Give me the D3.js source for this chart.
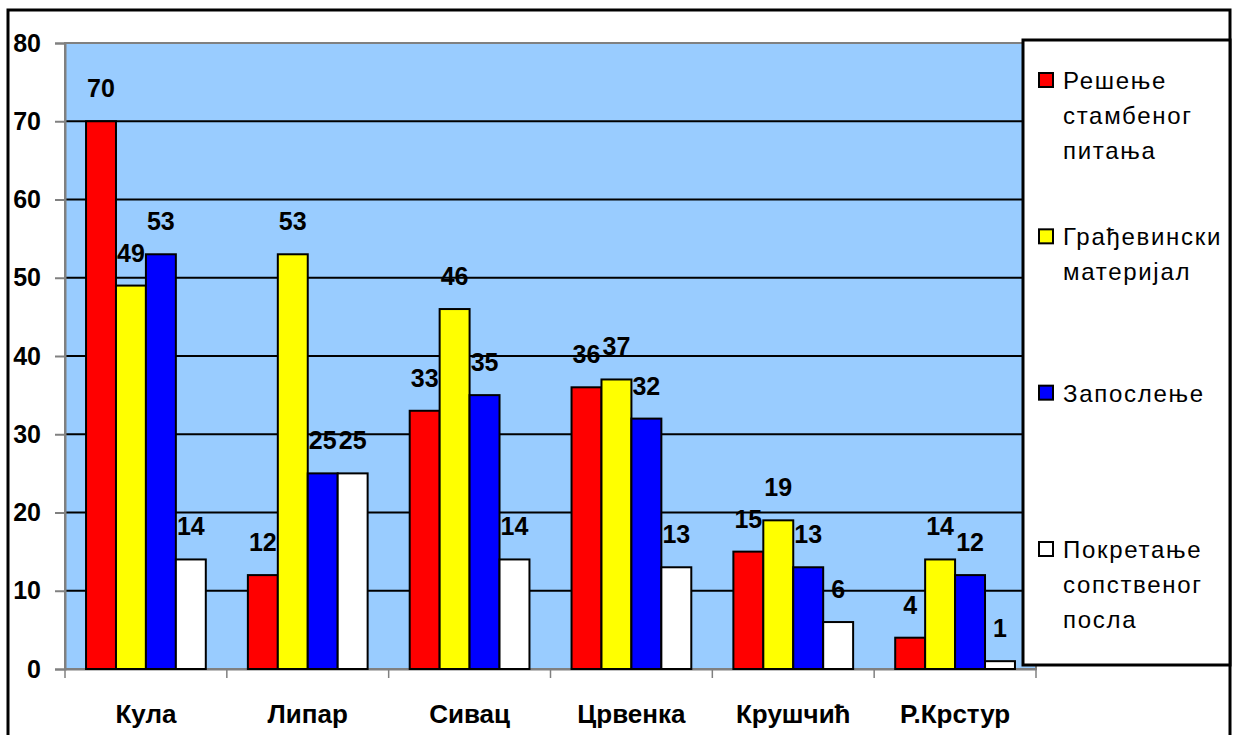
<!DOCTYPE html>
<html>
<head>
<meta charset="utf-8">
<script src="https://cdn.jsdelivr.net/npm/d3@7"></script>
<style>
  body { margin: 0; background: #fff; }
  svg { display: block; font-family: "Liberation Sans", Arial, sans-serif; }
</style>
</head>
<body>
<svg id="chart" width="1236" height="735"></svg>
<script>
// data
const places = ["Кула", "Липар", "Сивац", "Црвенка", "Крушчић", "Р.Крстур"];
const seriesNames = [
  ["Решење", "стамбеног", "питања"],
  ["Грађевински", "материјал"],
  ["Запослење"],
  ["Покретање", "сопственог", "посла"]
];
const housing = [70, 12, 33, 36, 15, 4];
const material = [49, 53, 46, 37, 19, 14];
const employment = [53, 25, 35, 32, 13, 12];
const business = [14, 25, 14, 13, 6, 1];
const yTicks = [0, 10, 20, 30, 40, 50, 60, 70, 80];
const colors = ["#ff0000", "#ffff00", "#0000ff", "#ffffff"];

const series = [housing, material, employment, business];

const svg = d3.select("#chart");

// outer frame
svg.append("rect")
  .attr("x", 8).attr("y", 10)
  .attr("width", 1222).attr("height", 760)
  .attr("fill", "#fff")
  .attr("stroke", "#000")
  .attr("stroke-width", 3);

const plot = { left: 65, right: 1036, top: 43, bottom: 669 };

const x = d3.scaleBand()
  .domain(places)
  .range([plot.left, plot.right])
  .padding(0);

const inner = d3.scaleBand()
  .domain(d3.range(series.length))
  .range([x.bandwidth() * 0.13, x.bandwidth() * 0.87])
  .padding(0);

const y = d3.scaleLinear()
  .domain([0, 80])
  .range([plot.bottom, plot.top]);

// plot background
svg.append("rect")
  .attr("x", plot.left).attr("y", plot.top)
  .attr("width", plot.right - plot.left)
  .attr("height", plot.bottom - plot.top)
  .attr("fill", "#99ccff")
  .attr("stroke", "#808080")
  .attr("stroke-width", 2);

// gridlines
svg.append("g")
  .selectAll("line")
  .data(yTicks.filter(d => d > 0 && d < 80))
  .join("line")
  .attr("x1", plot.left).attr("x2", plot.right)
  .attr("y1", d => y(d)).attr("y2", d => y(d))
  .attr("stroke", "#000")
  .attr("stroke-width", 2);

// y axis
const yAxis = svg.append("g")
  .attr("transform", `translate(${plot.left},0)`)
  .call(d3.axisLeft(y).tickValues(yTicks).tickSize(10).tickPadding(14));
yAxis.select(".domain").attr("stroke", "#808080").attr("stroke-width", 2);
yAxis.selectAll(".tick line").attr("stroke", "#808080").attr("stroke-width", 2);
yAxis.selectAll(".tick text")
  .attr("fill", "#000")
  .style("font-size", "25px")
  .style("font-weight", "bold")
  .style("font-family", "'Liberation Sans', Arial, sans-serif");

// x axis
const xAxis = svg.append("g")
  .attr("transform", `translate(0,${plot.bottom})`)
  .call(d3.axisBottom(x).tickSize(0).tickPadding(36));
xAxis.select(".domain").attr("stroke", "#808080").attr("stroke-width", 2);
xAxis.selectAll(".tick text")
  .attr("fill", "#000")
  .style("font-size", "26px")
  .style("font-weight", "bold")
  .style("font-family", "'Liberation Sans', Arial, sans-serif");

// category separators
svg.append("g")
  .selectAll("line")
  .data(places.concat(["end"]))
  .join("line")
  .attr("x1", (d, i) => i < places.length ? x(d) : plot.right)
  .attr("x2", (d, i) => i < places.length ? x(d) : plot.right)
  .attr("y1", plot.bottom).attr("y2", plot.bottom + 9)
  .attr("stroke", "#808080")
  .attr("stroke-width", 1.5);

// bars
const groups = svg.append("g")
  .selectAll("g")
  .data(places)
  .join("g")
  .attr("transform", d => `translate(${x(d)},0)`);

groups.selectAll("rect")
  .data((d, i) => series.map((s, k) => ({ k, v: s[i] })))
  .join("rect")
  .attr("x", d => inner(d.k))
  .attr("y", d => y(d.v))
  .attr("width", inner.bandwidth())
  .attr("height", d => y(0) - y(d.v))
  .attr("fill", d => colors[d.k])
  .attr("stroke", "#000")
  .attr("stroke-width", 2);

groups.selectAll("text")
  .data((d, i) => series.map((s, k) => ({ k, v: s[i] })))
  .join("text")
  .attr("x", d => inner(d.k) + inner.bandwidth() / 2)
  .attr("y", d => y(d.v) - 24)
  .attr("text-anchor", "middle")
  .style("font-size", "25px")
  .style("font-weight", "bold")
  .text(d => d.v);

// legend
const legend = svg.append("g");
legend.append("rect")
  .attr("x", 1023).attr("y", 40)
  .attr("width", 207).attr("height", 625)
  .attr("fill", "#fff")
  .attr("stroke", "#000")
  .attr("stroke-width", 3);

const ly = d3.scaleLinear().domain([0, 3]).range([80, 549]);

const items = legend.selectAll("g.item")
  .data(seriesNames)
  .join("g")
  .attr("class", "item")
  .attr("transform", (d, i) => `translate(0,${ly(i)})`);

items.append("rect")
  .attr("x", 1039).attr("y", -7)
  .attr("width", 14).attr("height", 14)
  .attr("fill", (d, i) => colors[i])
  .attr("stroke", "#000")
  .attr("stroke-width", 2);

items.append("text")
  .attr("x", 1063)
  .attr("y", 9)
  .style("font-size", "24px")
  .style("letter-spacing", "1.7px")
  .selectAll("tspan")
  .data(d => d)
  .join("tspan")
  .attr("x", 1063)
  .attr("dy", (d, i) => i === 0 ? 0 : 35)
  .text(d => d);
</script>
</body>
</html>
